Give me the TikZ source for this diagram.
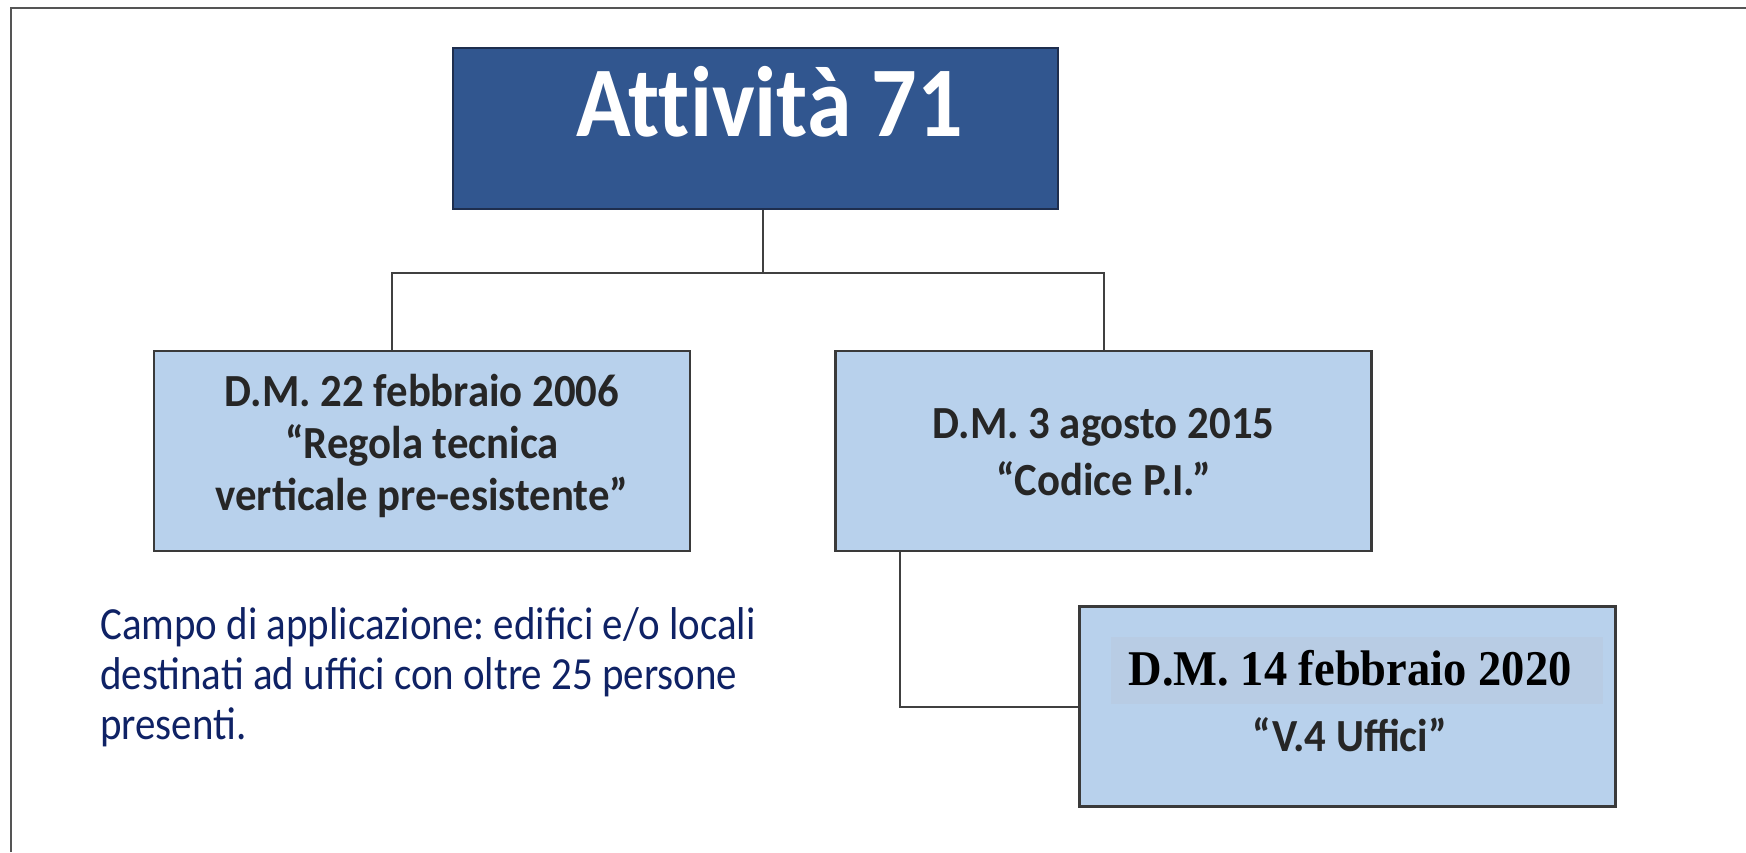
\documentclass[tikz,border=0pt]{standalone}
\usepackage{fontspec}
\setmainfont{Carlito}
\newfontfamily\boxfont{Carlito}[FakeStretch=0.93]
\newfontfamily\titlefont{Carlito}[FakeStretch=0.9,Ligatures=NoCommon]
\newfontfamily\campofont{Carlito}[FakeStretch=0.89]
\newfontfamily\timesf{Liberation Serif}[FakeStretch=0.93]
\usetikzlibrary{calc}
\frenchspacing
\definecolor{darkblue}{HTML}{31568F}
\definecolor{darkline}{HTML}{1E2E4E}
\definecolor{lightblue}{HTML}{B8D1EC}
\definecolor{barblue}{HTML}{B8CCE4}
\definecolor{boxline}{HTML}{3A3A3A}
\definecolor{textgray}{HTML}{262626}
\definecolor{navy}{HTML}{0F2265}
\definecolor{frameline}{HTML}{555555}
\begin{document}
\begin{tikzpicture}[x=1pt,y=-1pt,
  lbox/.style={draw=boxline,line width=2.5pt,fill=lightblue,minimum width=536pt,minimum height=200pt,inner sep=0pt},
  conn/.style={draw=black!75,line width=2pt},
  boxtext/.style={text=textgray,font=\boxfont\fontsize{46}{52}\selectfont\bfseries,align=center,inner sep=0pt}]
\useasboundingbox (0,0) rectangle (1746,852);
\draw[line width=2.5pt,draw=frameline] (11,852) -- (11,8) -- (1746,8);

\node[draw=darkline,line width=2.5pt,fill=darkblue,minimum width=605pt,minimum height=161pt,inner sep=0pt] (top) at (755.5,128.5) {};
\node[text=white,font=\titlefont\fontsize{100}{100}\selectfont\bfseries,inner sep=0pt] (title) at (770,102) {Attività 71};

\node[lbox] (left) at (422,451) {};
\node[lbox] (mid) at (1103.5,451) {};
\node[lbox] (bot) at (1347.5,706.5) {};
\node[fill=barblue,minimum width=492pt,minimum height=67pt,inner sep=0pt] (bar) at (1357,670.5) {};

\node[boxtext] (lt) at (422,446) {D.M. 22 febbraio 2006\\“Regola tecnica\\verticale pre-esistente”};
\node[boxtext,font=\boxfont\fontsize{46}{57}\selectfont\bfseries] (mt) at (1103.5,452) {D.M. 3 agosto 2015\\“Codice P.I.”};
\node[inner sep=0pt,font=\timesf\fontsize{50}{50}\selectfont\bfseries] (bt1) at (1350,668) {D.M. 14 febbraio 2020};
\node[boxtext] (bt2) at (1350,735) {“V.4 Uffici”};

\node[anchor=base west,align=left,inner sep=0pt,text=navy,font=\campofont\fontsize{46}{50}\selectfont] (campo) at (100,739) {Campo di applicazione: edifici e/o locali\\destinati ad uffici con oltre 25 persone\\presenti.};

\draw[conn] ([xshift=7.5pt]top.south) -- ++(0,63) coordinate (j);
\draw[conn] ([xshift=-30pt]left.north) |- (j) -| (mid.north);
\draw[conn] ([xshift=-203.5pt]mid.south) |- (bot.west);
\end{tikzpicture}
\end{document}
